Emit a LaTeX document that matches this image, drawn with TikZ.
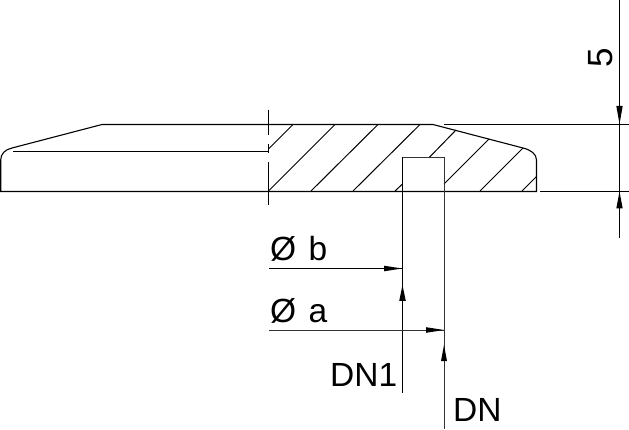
\documentclass[tikz,border=0pt]{standalone}
\usepackage{fontspec}
\setmainfont{Liberation Sans}
\tikzset{
  outline/.style={black,line width=1.1pt},
  thin line/.style={black,line width=1.05pt},
  soft line/.style={black!80,line width=1pt},
  hatch/.style={black,line width=1pt},
  dimtext/.style={inner sep=0pt,anchor=base west,font=\fontsize{33.5}{33.5}\selectfont},
  tip/.style={fill=black,draw=none}
}
\begin{document}
\begin{tikzpicture}[x=1pt,y=-1pt]
\useasboundingbox (0,0) rectangle (629,430);
% body outline
\draw[outline] (540,191.5) -- (629,191.5);
\draw[outline] (444,124.5) -- (629,124.5);
\draw[outline] (0.7,191.5) -- (0.7,160) .. controls (0.7,154) and (5,149.5) .. (12,148) -- (102,124.5) -- (433,124.5) -- (523,148) .. controls (531,150) and (536.5,154) .. (536.5,160) -- (536.5,191.5) -- cycle;
\draw[outline] (13,151.5) -- (268.5,151.5);
% centre line
\draw[outline] (268.5,110) -- (268.5,135);
\draw[outline] (268.5,144) -- (268.5,153);
\draw[outline] (268.5,162) -- (268.5,205);
% hatching
\foreach \a/\b/\c/\d in {268.5/149/293/124.5, 268.5/191/335/124.5, 311/191/378/124.5, 353/191/420/124.5, 395/191/402.5/184, 429/157.7/456/130, 444/184/489/139, 480/191/523/148, 522/191/536.5/176.5}
  \draw[hatch] (\a,\b) -- (\c,\d);
% groove and extension lines
\draw[thin line] (402.5,393) -- (402.5,157.5);
\draw[soft line] (402.5,157.5) -- (444,157.5) -- (444,429);
% dimension lines
\draw[thin line] (269,268.5) -- (402.5,268.5);
\draw[soft line] (269,330) -- (444,330);
\draw[thin line] (619.5,0) -- (619.5,238);
% arrowheads
\fill[tip] (402,268.5) -- (384,265.7) -- (384,271.3) -- cycle;
\fill[tip] (444,330) -- (426,327.2) -- (426,332.8) -- cycle;
\fill[tip] (402.5,285) -- (399.2,301) -- (405.8,301) -- cycle;
\fill[tip] (444,345) -- (441,361) -- (447,361) -- cycle;
\fill[tip] (619.5,124) -- (616.3,106) -- (622.7,106) -- cycle;
\fill[tip] (619.5,191.5) -- (616.3,208.5) -- (622.7,208.5) -- cycle;
% texts
\node[dimtext] (tb) at (270,261) {Ø\hspace{3pt} b};
\node[dimtext] (ta) at (270,323) {Ø\hspace{3pt} a};
\node[dimtext] (tdn1) at (330,386) {DN1};
\node[dimtext] (tdn) at (453,421) {DN};
\node[inner sep=0pt,anchor=base west,rotate=90,font=\fontsize{35}{35}\selectfont] (tfive) at (612,68) {5};
\end{tikzpicture}
\end{document}
